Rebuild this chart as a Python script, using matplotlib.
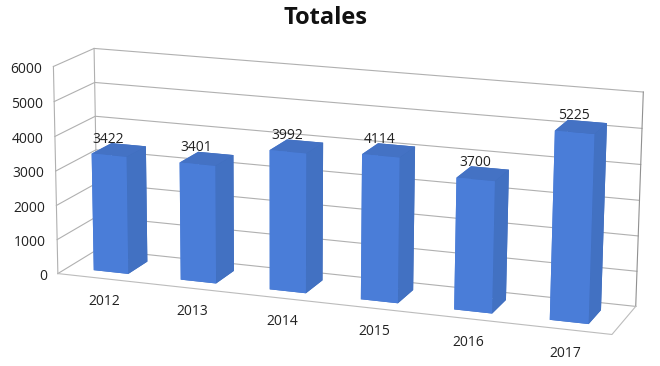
import numpy as np
import matplotlib
matplotlib.use('Agg')
import matplotlib.pyplot as plt
from mpl_toolkits.mplot3d import proj3d

years = ['2012', '2013', '2014', '2015', '2016', '2017']
totals = [3422, 3401, 3992, 4114, 3700, 5225]
y_ticks = [0, 1000, 2000, 3000, 4000, 5000, 6000]

plt.rcParams['font.family'] = ['Open Sans', 'DejaVu Sans']

fig = plt.figure(figsize=(6.6, 3.66), dpi=100)
# camera was fitted to the corners of the walls in the picture
ax = fig.add_axes([27.39/660, -134.15/366, 612.88/660, 612.88/366], projection='3d', computed_zorder=False)
ax.set_xlim(0, 6, view_margin=0)
ax.set_ylim(0, 1, view_margin=0)
ax.set_zlim(0, 6000, view_margin=0)
ax.set_box_aspect((2.687, 0.4492, 1))
ax.view_init(elev=14.4687, azim=-70.5755, roll=-0.3633)
ax.set_proj_type('persp', focal_length=0.799)
ax.set_axis_off()
ax.patch.set_alpha(0)

grid_color = '#b0b0b0'


def label(x, y, z, s, **kw):
    # place flat text at the projected position of a 3D point
    px, py, _ = proj3d.proj_transform(x, y, z, ax.get_proj())
    ax.text2D(px, py, s, transform=ax.transData, fontsize=10, color='#222222', zorder=10, **kw)


# Walls: left and back gridlines
for t in y_ticks:
    ax.plot([0, 0, 6], [0, 1, 1], [t, t, t], color=grid_color, lw=0.8, zorder=1, clip_on=False)
ax.plot([0, 0], [0, 0], [0, 6000], color=grid_color, lw=0.8, zorder=1, clip_on=False)
ax.plot([0, 0], [1, 1], [0, 6000], color=grid_color, lw=0.8, zorder=1, clip_on=False)
ax.plot([6, 6], [1, 1], [0, 6000], color='#909090', lw=0.8, zorder=1, clip_on=False)

# Floor edges
ax.plot([0, 6, 6], [0, 0, 1], [0, 0, 0], color='#bcbcbc', lw=0.8, zorder=1, clip_on=False)

# Bars: faces are -z, +z, -y, +y, -x, +x
face_colors = ['#3f6cbc', '#4472c4', '#4a7dd8', '#3f6cbc', '#4a7dd8', '#4271c2']
bar_w = 0.4
bar_d = 0.5
for i, v in enumerate(totals):
    ax.bar3d(i + 0.5 - bar_w/2, 0.5 - bar_d/2, 0, bar_w, bar_d, v, color=face_colors,
             shade=False, edgecolor='none', linewidth=0, zorder=2 + i)

# Value labels above the bars
for i, v in enumerate(totals):
    label(i + 0.5, 0.22, v + 270, str(v), ha='center', va='bottom')

# Axis labels
for i, name in enumerate(years):
    label(i + 0.53, 0, -670, name, ha='center', va='center')
for t in y_ticks:
    label(-0.13, 0, t - 115, str(t), ha='right', va='center')

fig.text(326/660, 1 - 17.5/366, 'Totales', ha='center', va='center', fontsize=17,
         fontweight='bold', color='#111111')

fig.savefig('out.png', dpi=100)
